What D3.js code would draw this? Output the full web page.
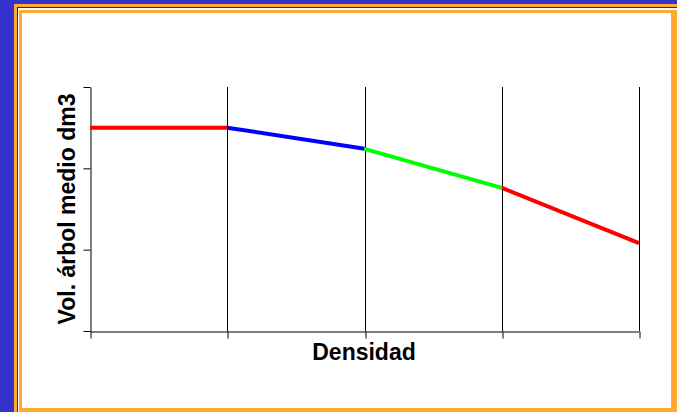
<!DOCTYPE html>
<html><head><meta charset="utf-8">
<script src="https://cdn.jsdelivr.net/npm/d3@7"></script>
<style>html,body{margin:0;padding:0;background:#3333CC;}svg{display:block;}</style>
</head><body>
<svg id="chart" width="677" height="412"></svg>
<script>
const densidad = [0, 1, 2, 3, 4];
const volumen = [2.5, 2.5, 2.24, 1.76, 1.08];
const segmentColors = ["#FF0000", "#0000FF", "#00FF00", "#FF0000"];
const yTicks = [0, 1, 2, 3];
const xLabel = "Densidad";
const yLabel = "Vol. árbol medio dm3";

const svg = d3.select("#chart");
// frame
svg.append("rect").attr("x",0).attr("y",0).attr("width",677).attr("height",412).attr("fill","#3333CC");
svg.append("rect").attr("x",14).attr("y",4).attr("width",663).attr("height",408).attr("fill","#FFA92E");
svg.append("rect").attr("x",17).attr("y",7).attr("width",660).attr("height",405).attr("fill","#2A2A55");
svg.append("rect").attr("x",18).attr("y",8).attr("width",659).attr("height",404).attr("fill","#FFFFFF");
svg.append("rect").attr("x",19).attr("y",10).attr("width",658).attr("height",402).attr("fill","#FFA92E");
svg.append("rect").attr("x",22).attr("y",13).attr("width",649).attr("height",395).attr("fill","#FFFFFF");

const x = d3.scaleLinear().domain([0,4]).range([90,639]);
const y = d3.scaleLinear().domain([0,3]).range([331,87]);

const g = svg.append("g");
// vertical gridlines
g.selectAll("line.grid").data(densidad.slice(1)).enter().append("line")
  .attr("x1",d=>Math.round(x(d))+0.5).attr("x2",d=>Math.round(x(d))+0.5)
  .attr("y1",y(3)).attr("y2",y(0)).attr("stroke","#000").attr("stroke-width",1);

const xAxis = d3.axisBottom(x).tickValues(densidad).tickSize(7).tickFormat("").tickSizeOuter(0);
const gx = g.append("g").attr("transform",`translate(0,${Math.round(y(0))+0.5})`).call(xAxis);
gx.selectAll("line").attr("stroke","#000").each(function(d){d3.select(this).attr("x1",Math.round(x(d))+0.5-x(d)).attr("x2",Math.round(x(d))+0.5-x(d));});
gx.select(".domain").attr("stroke","#000");

const yAxis = d3.axisLeft(y).tickValues(yTicks).tickSize(7).tickFormat("").tickSizeOuter(0);
const gy = g.append("g").attr("transform",`translate(${Math.round(x(0))+0.5},0)`).call(yAxis);
gy.select(".domain").attr("stroke","#000");
gy.selectAll("line").attr("stroke","#000");

// line segments
const segs = d3.range(densidad.length-1).map(i=>({x1:densidad[i],y1:volumen[i],x2:densidad[i+1],y2:volumen[i+1],c:segmentColors[i]}));
g.selectAll("line.seg").data(segs).enter().append("line")
  .attr("x1",d=>x(d.x1)).attr("y1",d=>y(d.y1)).attr("x2",d=>x(d.x2)).attr("y2",d=>y(d.y2))
  .attr("stroke",d=>d.c).attr("stroke-width",4).attr("stroke-linecap","butt");

svg.append("text").attr("x",364).attr("y",360).attr("text-anchor","middle")
  .attr("font-family","Liberation Sans, Arial, sans-serif").attr("font-weight","bold").attr("font-size",23)
  .attr("fill","#000").text(xLabel);
svg.append("text").attr("transform","translate(75,209) rotate(-90)").attr("text-anchor","middle")
  .attr("font-family","Liberation Sans, Arial, sans-serif").attr("font-weight","bold").attr("font-size",23)
  .attr("fill","#000").text(yLabel);
</script>
</body></html>
